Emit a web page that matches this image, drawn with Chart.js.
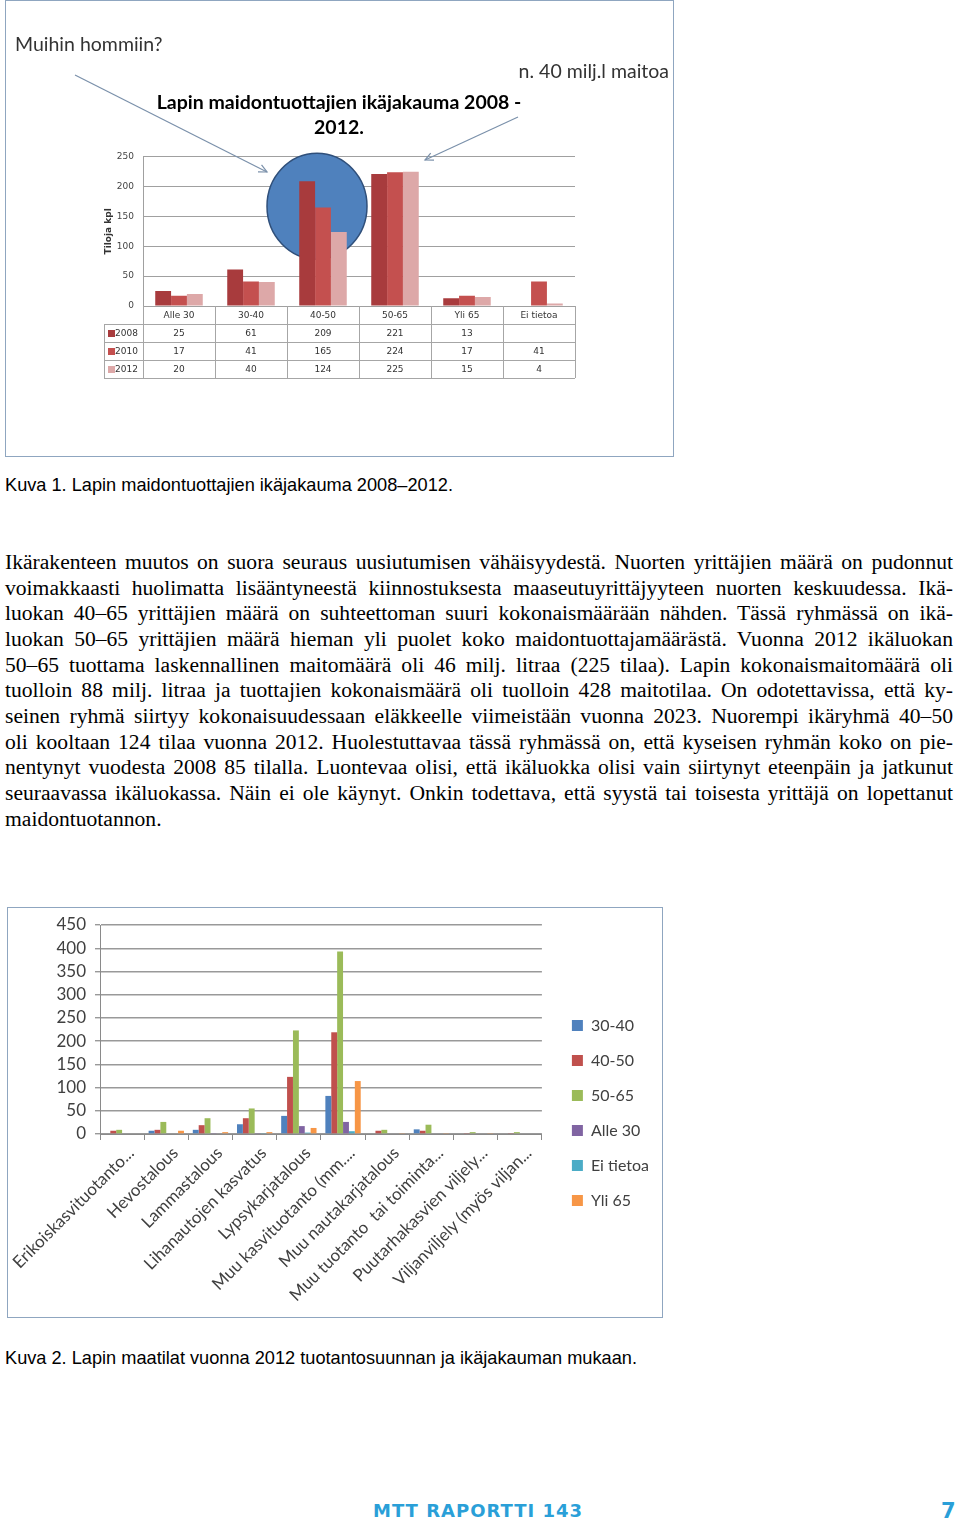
<!DOCTYPE html>
<html>
<head>
<meta charset="utf-8">
<script src="https://cdn.jsdelivr.net/npm/chart.js@4.4.0/dist/chart.umd.min.js"></script>
<style>
body { margin:0; background:#fff; width:960px; height:1521px; position:relative; overflow:hidden; }
.frame { position:absolute; border:1px solid #8fa6c0; }
.frame canvas { position:absolute; left:0; top:0; }
.cap { position:absolute; left:5px; font-family:"Liberation Sans", Arial, sans-serif; font-size:18.2px; line-height:20px; color:#000; white-space:nowrap; }
#para { position:absolute; left:5px; top:550px; width:948px; font-family:"Liberation Serif", "Times New Roman", serif; font-size:21.6px; line-height:25.65px; color:#000; }
#para div { text-align:justify; text-align-last:justify; white-space:nowrap; }
#para div.last { text-align-last:left; }
.foot { position:absolute; top:1501px; font-family:"DejaVu Sans", sans-serif; font-weight:bold; color:#2a9fd8; line-height:20px; }
</style>
</head>
<body>

<div class="frame" style="left:5px; top:0; width:667px; height:455px;">
  <canvas id="chart1" width="667" height="455"></canvas>
</div>
<div class="cap" style="top:475px;">Kuva 1. Lapin maidontuottajien ikäjakauma 2008–2012.</div>

<div id="para">
<div>Ikärakenteen muutos on suora seuraus uusiutumisen vähäisyydestä. Nuorten yrittäjien määrä on pudonnut</div>
<div>voimakkaasti huolimatta lisääntyneestä kiinnostuksesta maaseutuyrittäjyyteen nuorten keskuudessa. Ikä-</div>
<div>luokan 40–65 yrittäjien määrä on suhteettoman suuri kokonaismäärään nähden. Tässä ryhmässä on ikä-</div>
<div>luokan 50–65 yrittäjien määrä hieman yli puolet koko maidontuottajamäärästä. Vuonna 2012 ikäluokan</div>
<div>50–65 tuottama laskennallinen maitomäärä oli 46 milj. litraa (225 tilaa). Lapin kokonaismaitomäärä oli</div>
<div>tuolloin 88 milj. litraa ja tuottajien kokonaismäärä oli tuolloin 428 maitotilaa. On odotettavissa, että ky-</div>
<div>seinen ryhmä siirtyy kokonaisuudessaan eläkkeelle viimeistään vuonna 2023. Nuorempi ikäryhmä 40–50</div>
<div>oli kooltaan 124 tilaa vuonna 2012. Huolestuttavaa tässä ryhmässä on, että kyseisen ryhmän koko on pie-</div>
<div>nentynyt vuodesta 2008 85 tilalla. Luontevaa olisi, että ikäluokka olisi vain siirtynyt eteenpäin ja jatkunut</div>
<div>seuraavassa ikäluokassa. Näin ei ole käynyt. Onkin todettava, että syystä tai toisesta yrittäjä on lopettanut</div>
<div class="last">maidontuotannon.</div>
</div>

<div class="frame" style="left:7px; top:907px; width:654px; height:409px;">
  <canvas id="chart2" width="654" height="409"></canvas>
</div>
<div class="cap" style="top:1348px;">Kuva 2. Lapin maatilat vuonna 2012 tuotantosuunnan ja ikäjakauman mukaan.</div>

<div class="foot" style="left:373px; font-size:18px; letter-spacing:1px;">MTT RAPORTTI 143</div>
<div class="foot" style="left:941px; font-size:21px;">7</div>

<script>
// Kuva 1: maidontuottajien ikäjakauma
const ageCats1 = ['Alle 30', '30-40', '40-50', '50-65', 'Yli 65', 'Ei tietoa'];
const years1 = ['2008', '2010', '2012'];
const farms2008 = [25, 61, 209, 221, 13, null];
const farms2010 = [17, 41, 165, 224, 17, 41];
const farms2012 = [20, 40, 124, 225, 15, 4];
const yTicks1 = [0, 50, 100, 150, 200, 250];
const yearColors = ['#a83b3d', '#c4504f', '#dda8a8'];

// Kuva 2: tuotantosuunta ja ikäryhmä
const prodCats = ['Erikoiskasvituotanto...', 'Hevostalous', 'Lammastalous', 'Lihanautojen kasvatus',
  'Lypsykarjatalous', 'Muu kasvituotanto (mm....', 'Muu nautakarjatalous', 'Muu tuotanto  tai toiminta...',
  'Puutarhakasvien viljely...', 'Viljanviljely (myös viljan...'];
const ageGroups2 = ['30-40', '40-50', '50-65', 'Alle 30', 'Ei tietoa', 'Yli 65'];
const v3040    = [0, 7, 9, 21, 39, 82, 0, 10, 0, 0];
const v4050    = [7, 9, 19, 34, 123, 219, 7, 7, 2, 2];
const v5065    = [9, 26, 34, 55, 223, 393, 9, 20, 4, 4];
const vAlle30  = [0, 0, 2, 2, 17, 26, 0, 0, 0, 0];
const vEiTieto = [0, 0, 0, 1, 3, 6, 0, 0, 0, 0];
const vYli65   = [0, 7, 4, 4, 13, 114, 2, 2, 2, 0];
const yTicks2 = [0, 50, 100, 150, 200, 250, 300, 350, 400, 450];
const ageColors2 = ['#4f81bd', '#c0504d', '#9bbb59', '#8064a2', '#4bacc6', '#f79646'];

function arrow(ctx, x1, y1, x2, y2) {
  ctx.beginPath(); ctx.moveTo(x1, y1); ctx.lineTo(x2, y2); ctx.stroke();
  const a = Math.atan2(y2 - y1, x2 - x1), L = 9;
  ctx.beginPath();
  ctx.moveTo(x2 - L * Math.cos(a - 0.45), y2 - L * Math.sin(a - 0.45));
  ctx.lineTo(x2, y2);
  ctx.lineTo(x2 - L * Math.cos(a + 0.45), y2 - L * Math.sin(a + 0.45));
  ctx.stroke();
}

const notes1 = {
  id: 'notes1',
  beforeDatasetsDraw(chart) {
    const {ctx, scales: {x, y}} = chart;
    const cx = x.getPixelForValue(2) - 6, cy = y.getPixelForValue(167);
    ctx.save();
    ctx.beginPath();
    ctx.ellipse(cx, cy, 50, 53, 0, 0, Math.PI * 2);
    ctx.fillStyle = '#4f81bd'; ctx.fill();
    ctx.lineWidth = 1.5; ctx.strokeStyle = '#2f4f7a'; ctx.stroke();
    ctx.restore();
  },
  afterDraw(chart) {
    const {ctx, chartArea: ca, scales: {x}} = chart;
    ctx.save();
    ctx.fillStyle = '#333';
    ctx.font = '19.5px Lato';
    ctx.textBaseline = 'middle';
    ctx.textAlign = 'left';
    ctx.fillText('Muihin hommiin?', 9, 44);
    ctx.textAlign = 'right';
    ctx.fillText('n. 40 milj.l maitoa', 663, 71);
    ctx.strokeStyle = '#7a90aa'; ctx.lineWidth = 1.2;
    arrow(ctx, 69, 74, 261, 171);
    arrow(ctx, 512, 116, 419, 159);

    // data table under the plot
    const rowH = 18;
    const step = x.getPixelForValue(1) - x.getPixelForValue(0);
    const leftCol = ca.left - 39;
    const top = ca.bottom;
    ctx.strokeStyle = '#a6a6a6'; ctx.lineWidth = 1;
    ctx.beginPath();
    for (let r = 1; r <= 4; r++) {
      const yy = Math.round(top + r * rowH) + 0.5;
      ctx.moveTo(leftCol, yy); ctx.lineTo(ca.right, yy);
    }
    ctx.moveTo(leftCol + 0.5, top + rowH); ctx.lineTo(leftCol + 0.5, top + 4 * rowH);
    for (let i = 0; i <= ageCats1.length; i++) {
      const xx = Math.round(ca.left + i * step) + 0.5;
      ctx.moveTo(xx, top); ctx.lineTo(xx, top + 4 * rowH);
    }
    ctx.stroke();

    ctx.font = '9px "DejaVu Sans"';
    ctx.fillStyle = '#333';
    ctx.textAlign = 'center';
    const rows = [farms2008, farms2010, farms2012];
    ageCats1.forEach((c, i) => {
      const cxp = x.getPixelForValue(i);
      ctx.fillText(c, cxp, top + rowH / 2 + 1);
      rows.forEach((vals, r) => {
        if (vals[i] !== null) ctx.fillText(String(vals[i]), cxp, top + (r + 1.5) * rowH + 1);
      });
    });
    ctx.textAlign = 'left';
    years1.forEach((yr, r) => {
      const yy = top + (r + 1.5) * rowH;
      ctx.fillStyle = yearColors[r];
      ctx.fillRect(leftCol + 4, yy - 3, 7, 7);
      ctx.fillStyle = '#333';
      ctx.fillText(yr, leftCol + 11, yy + 1);
    });
    ctx.restore();
  }
};

new Chart(document.getElementById('chart1').getContext('2d'), {
  type: 'bar',
  data: {
    labels: ageCats1,
    datasets: [
      { label: years1[0], data: farms2008, backgroundColor: yearColors[0] },
      { label: years1[1], data: farms2010, backgroundColor: yearColors[1] },
      { label: years1[2], data: farms2012, backgroundColor: yearColors[2] }
    ]
  },
  options: {
    responsive: false,
    animation: false,
    devicePixelRatio: 1,
    layout: { padding: { left: 97, right: 98, top: 0, bottom: 150 } },
    datasets: { bar: { categoryPercentage: 0.66, barPercentage: 1 } },
    plugins: {
      legend: { display: false },
      tooltip: { enabled: false },
      title: {
        display: true,
        text: ['Lapin maidontuottajien ikäjakauma 2008 -', '2012.'],
        font: { family: 'Lato', size: 19.5, weight: 'bold', lineHeight: 1.3 },
        color: '#000',
        padding: { top: 89, bottom: 16 }
      }
    },
    scales: {
      x: { display: false },
      y: {
        min: 0, max: 250,
        afterFit: s => { s.width = 40; },
        afterBuildTicks: s => { s.ticks = yTicks1.map(v => ({ value: v })); },
        ticks: { autoSkip: false, font: { family: 'DejaVu Sans', size: 9 }, color: '#444', padding: 9 },
        grid: { color: '#a0a0a0', drawTicks: false },
        border: { color: '#a0a0a0' },
        title: { display: true, text: 'Tiloja kpl', font: { family: 'DejaVu Sans', size: 9, weight: 'bold' }, color: '#333', padding: 0 }
      }
    }
  },
  plugins: [notes1]
});

const legendShift = {
  id: 'legendShift',
  beforeDraw(chart) {
    chart.legend.left += 11;
    chart.legend.top -= 8;
    chart.legend.bottom -= 8;
  }
};

const series2 = [v3040, v4050, v5065, vAlle30, vEiTieto, vYli65];

new Chart(document.getElementById('chart2').getContext('2d'), {
  type: 'bar',
  data: {
    labels: prodCats,
    datasets: ageGroups2.map((g, i) => ({ label: g, data: series2[i], backgroundColor: ageColors2[i] }))
  },
  options: {
    responsive: false,
    animation: false,
    devicePixelRatio: 1,
    layout: { padding: { left: 42, right: 14, top: 17, bottom: 0 } },
    datasets: { bar: { categoryPercentage: 0.8, barPercentage: 1 } },
    plugins: {
      tooltip: { enabled: false },
      legend: {
        position: 'right',
        labels: { boxWidth: 11, boxHeight: 11, padding: 19, font: { family: 'Lato', size: 16 }, color: '#404040' }
      }
    },
    scales: {
      x: {
        afterFit: s => { s.height = 183; s.paddingLeft = 0; s.paddingRight = 0; },
        grid: { offset: true, drawOnChartArea: false, tickLength: 6, color: '#8a8a8a' },
        border: { color: '#8a8a8a' },
        ticks: { autoSkip: false, minRotation: 45, maxRotation: 45, labelOffset: 9, font: { family: 'Lato', size: 17 }, color: '#404040', padding: 3 }
      },
      y: {
        min: 0, max: 450,
        afterFit: s => { s.width = 50; s.paddingTop = 0; s.paddingBottom = 0; },
        afterBuildTicks: s => { s.ticks = yTicks2.map(v => ({ value: v })); },
        grid: { color: '#999', lineWidth: 1.4, tickLength: 5 },
        border: { color: '#8a8a8a' },
        ticks: { autoSkip: false, font: { family: 'Lato', size: 17 }, color: '#404040', padding: 9 }
      }
    }
  },
  plugins: [legendShift]
});
</script>
</body>
</html>
